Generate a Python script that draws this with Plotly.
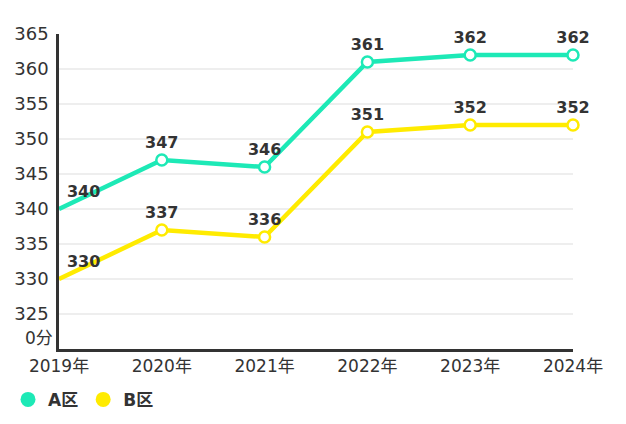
import plotly.graph_objects as go

years = ['2019年', '2020年', '2021年', '2022年', '2023年', '2024年']
area_a = [340, 347, 346, 361, 362, 362]
area_b = [330, 337, 336, 351, 352, 352]
y_ticks = [325, 330, 335, 340, 345, 350, 355, 360, 365]

teal = '#1DE9B6'
yellow = '#FFEB00'
ink = '#333333'
font_family = 'DejaVu Sans, Noto Sans CJK SC, sans-serif'

# first point sits on the axis, its marker is hidden
opac = [0, 1, 1, 1, 1, 1]
positions = ['top right'] + ['top center'] * 5

fig = go.Figure()
for name, vals, col in [('A区', area_a, teal), ('B区', area_b, yellow)]:
    fig.add_trace(go.Scatter(
        x=years, y=vals, name=name, showlegend=False,
        mode='lines+markers+text',
        line=dict(color=col, width=4.5),
        marker=dict(size=11, opacity=opac, color='white', line=dict(color=col, width=2.5)),
        text=[str(v) for v in vals],
        textposition=positions,
        textfont=dict(size=16, color=ink, weight='bold'),
        cliponaxis=False,
    ))
    # legend entry: plain filled dot
    fig.add_trace(go.Scatter(
        x=[None], y=[None], name=name, mode='markers',
        marker=dict(size=15, color=col),
    ))

fig.update_xaxes(
    range=[0, 5], showgrid=False, showline=True, linecolor=ink, linewidth=2.5,
    ticks='', tickfont=dict(size=17, color=ink), fixedrange=True, automargin=False,
)
fig.update_yaxes(
    range=[320, 365], tickvals=y_ticks, showgrid=True, gridcolor='#EEEEEE',
    gridwidth=1.5, showline=True, linecolor=ink, linewidth=2.5,
    zeroline=False, ticks='', tickfont=dict(size=18, color=ink),
    ticklabelstandoff=4, automargin=False,
)

fig.add_annotation(
    x=0, y=321.6, xref='paper', yref='y', text='0分', showarrow=False,
    xanchor='right', xshift=-4, font=dict(size=17, color=ink),
)

# the page sits the figure a few px in from the window corner
fig.update_layout(
    width=618, height=416,
    margin=dict(l=51, r=53, t=26, b=75),
    paper_bgcolor='white', plot_bgcolor='white',
    font=dict(family=font_family, color=ink),
    showlegend=True,
    legend=dict(
        orientation='h', xref='container', yref='container',
        x=0.0, y=0.058, xanchor='left', yanchor='middle',
        font=dict(size=17, color=ink, weight='bold'),
        itemsizing='trace', itemwidth=30,
    ),
)

fig.write_html('out.html')
